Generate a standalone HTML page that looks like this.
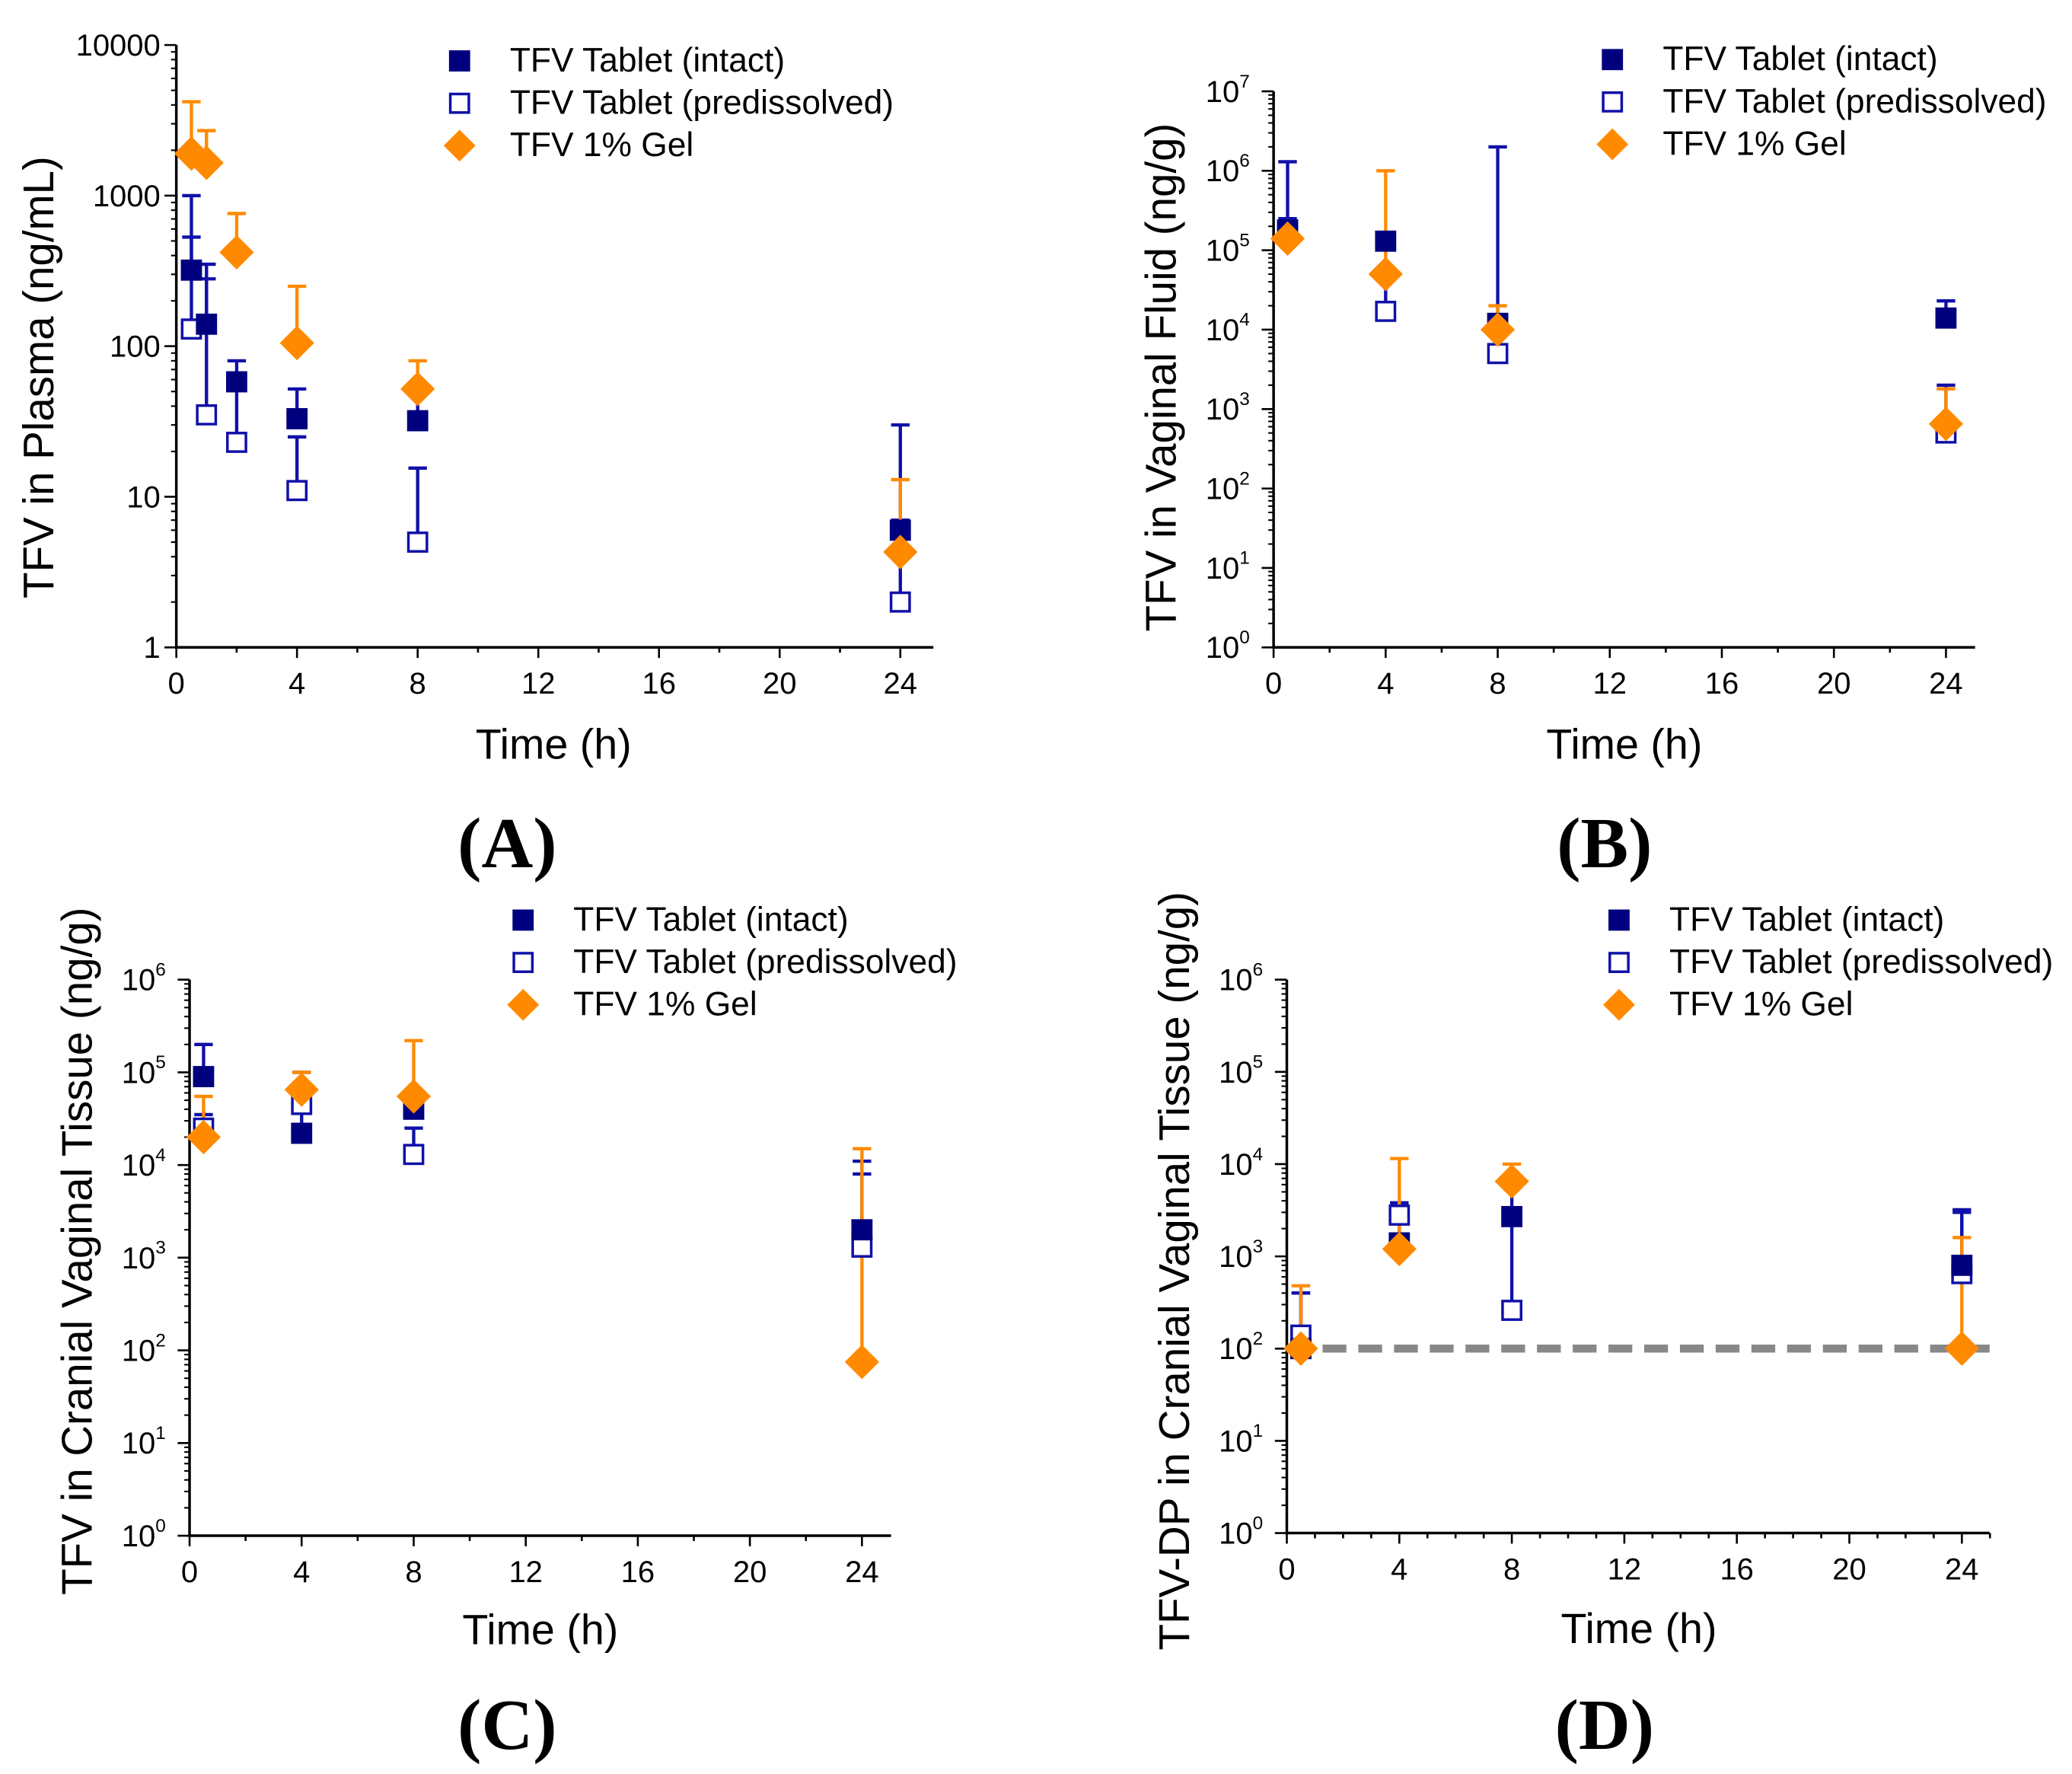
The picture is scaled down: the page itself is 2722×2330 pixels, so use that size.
<!DOCTYPE html>
<html><head><meta charset="utf-8">
<style>
html,body{margin:0;padding:0;background:#fff;}
svg{display:block;}
text{font-family:"Liberation Sans",sans-serif;}
text.serif{font-family:"Liberation Serif",serif;}
</style></head>
<body>
<svg id="chart" width="2722" height="2330" viewBox="0 0 1565 1340" xmlns="http://www.w3.org/2000/svg"></svg>
<script>
// ---- Data ----
const timesA = [0.5, 1, 2, 4, 8, 24];
const intactA = [320, 140, 58, 33, 32, 6];
const intactErrA = [530, 280, 80, 52, 52, 30];
const predA = [130, 35, 23, 11, 5, 2];
const predErrA = [1000, 350, 55, 25, 15.5, 7];
const gelA = [1900, 1650, 420, 105, 52, 4.3];
const gelErrA = [4200, 2700, 760, 250, 80, 13];

const timesB = [0.5, 4, 8, 24];
const intactB = [180000, 130000, 12000, 14000];
const intactErrB = [1300000, 140000, 2000000, 23000];
const predB = [160000, 17000, 5000, 500];
const predErrB = [250000, 60000, 12000, 2000];
const gelB = [140000, 50000, 10000, 650];
const gelErrB = [220000, 1000000, 20000, 1800];

const timesC = [0.5, 4, 8, 24];
const intactC = [90000, 22000, 40000, 2000];
const intactErrC = [200000, 60000, 55000, 11000];
const predC = [25000, 45000, 13000, 1300];
const predErrC = [35000, 100000, 25000, 8000];
const gelC = [20000, 65000, 55000, 75];
const gelErrC = [55000, 100000, 220000, 15000];

const timesD = [0.5, 4, 8, 24];
const intactD = [100, 1400, 2700, 800];
const intactErrD = [400, 3800, 7000, 3200];
const predD = [140, 2800, 260, 650];
const predErrD = [400, 3800, 2700, 3000];
const gelD = [100, 1200, 6500, 100];
const gelErrD = [480, 11500, 10000, 1600];
const lloqD = 100;

const xTicks = [0, 4, 8, 12, 16, 20, 24];
const legendLabels = ["TFV Tablet (intact)", "TFV Tablet (predissolved)", "TFV 1% Gel"];

const NAVY = "#00007f", BLUE = "#1010a8", ORANGE = "#ff8a00";
const NS = "http://www.w3.org/2000/svg";
const svg = document.getElementById("chart");

function el(tag, attrs, parent) {
  const e = document.createElementNS(NS, tag);
  for (const k in attrs) e.setAttribute(k, attrs[k]);
  (parent || svg).appendChild(e);
  return e;
}

function panel(p) {
  const g = el("g", {});
  
  
  const xS = t => p.x0 + (t / 24) * (p.x24 - p.x0);
  const yS = v => p.yBot - (Math.log10(v) - p.dMin) * (p.yBot - p.yTop) / (p.dMax - p.dMin);
  const ax = el("path", {d: `M${p.x0} ${p.yTop} V${p.yBot} H${p.xEnd}`, stroke: "#000", "stroke-width": 2, fill: "none"}, g);
  
  
  for (let t = 0; t <= 25; t += 1) {
    const major = t % 4 === 0, mid = t % 2 === 0;
    if (p.xMinorStep === 2 && !mid) continue;
    const len = major ? 8 : 4;
    el("line", {x1: xS(t), x2: xS(t), y1: p.yBot, y2: p.yBot + len, stroke: "#000", "stroke-width": 1.5}, g);
  }
  xTicks.forEach(t => {
    const tx = el("text", {x: xS(t), y: p.yBot + 35, "font-size": 23, "text-anchor": "middle"}, g);
    tx.textContent = t;
    
    
  });
  for (let d = p.dMin; d <= p.dMax; d++) {
    const y = yS(Math.pow(10, d));
    el("line", {x1: p.x0 - 9, x2: p.x0, y1: y, y2: y, stroke: "#000", "stroke-width": 1.5}, g);
    if (d < p.dMax) for (let m = 2; m <= 9; m++) {
      const ym = yS(m * Math.pow(10, d));
      el("line", {x1: p.x0 - 4, x2: p.x0, y1: ym, y2: ym, stroke: "#000", "stroke-width": 1.2}, g);
    }
    const tx = el("text", {x: p.x0 - 12, y: y + 8, "font-size": 23, "text-anchor": "end"}, g);
    
    
    if (p.sup) {
      tx.textContent = "10";
      const s = el("tspan", {dy: -11, "font-size": 14}, tx);
      s.textContent = d;
      tx.setAttribute("x", p.x0 - 18);
    } else tx.textContent = String(Math.pow(10, d));
  }
  const yt = el("text", {x: 0, y: 0, "font-size": 32.5, "text-anchor": "middle", transform: `translate(${p.ytx},${p.yty}) rotate(-90)`}, g);
  yt.textContent = p.yTitle;
  
  
  const xt = el("text", {x: p.xtx, y: p.xty, "font-size": 32, "text-anchor": "middle"}, g);
  xt.textContent = "Time (h)";
  
  
  const lb = el("text", {x: p.lx, y: p.ly, "font-size": 54, "font-weight": "bold", "text-anchor": "middle", "class": "serif"}, g);
  lb.textContent = "(" + p.id.toUpperCase() + ")";
  
  
  if (p.lloq) {
    const l = el("line", {x1: p.x0, x2: p.xEnd + 2, y1: yS(p.lloq), y2: yS(p.lloq), stroke: "#888", "stroke-width": 6, "stroke-dasharray": "18 9"}, g);
    
    
  }
  const series = [
    {v: p.pred, e: p.predErr, col: BLUE, kind: "open", name: "predissolved"},
    {v: p.intact, e: p.intactErr, col: BLUE, kind: "filled", name: "intact"},
    {v: p.gel, e: p.gelErr, col: ORANGE, kind: "diamond", name: "gel"}
  ];
  series.forEach(s => {
    p.times.forEach((t, i) => {
      const x = xS(t), y = yS(s.v[i]), ye = yS(s.e[i]);
      const eb = el("path", {d: `M${x} ${y} V${ye} M${x - 7} ${ye} H${x + 7}`, stroke: s.col, "stroke-width": 2.5, fill: "none"}, g);
      
      
    });
  });
  series.forEach(s => {
    p.times.forEach((t, i) => {
      const x = xS(t), y = yS(s.v[i]);
      let m;
      if (s.kind === "diamond") m = el("path", {d: `M${x} ${y - 13} L${x + 13} ${y} L${x} ${y + 13} L${x - 13} ${y} Z`, fill: ORANGE}, g);
      else if (s.kind === "filled") m = el("rect", {x: x - 8, y: y - 8, width: 16, height: 16, fill: NAVY}, g);
      else m = el("rect", {x: x - 7, y: y - 7, width: 14, height: 14, fill: "#fff", stroke: BLUE, "stroke-width": 2}, g);
      
      
    });
  });
  const lg = el("g", {}, g);
  
  
  legendLabels.forEach((lab, i) => {
    const y = p.legY + i * 32, x = p.legX;
    let m;
    if (i === 0) m = el("rect", {x: x - 8, y: y - 8, width: 16, height: 16, fill: NAVY}, lg);
    else if (i === 1) m = el("rect", {x: x - 7, y: y - 7, width: 14, height: 14, fill: "#fff", stroke: BLUE, "stroke-width": 2}, lg);
    else m = el("path", {d: `M${x} ${y - 12} L${x + 12} ${y} L${x} ${y + 12} L${x - 12} ${y} Z`, fill: ORANGE}, lg);
    
    
    const tx = el("text", {x: x + 38, y: y + 8, "font-size": 25.5}, lg);
    tx.textContent = lab;
    
    
  });
}

panel({id: "a", x0: 133, x24: 680, xEnd: 705, yTop: 34, yBot: 489, dMin: 0, dMax: 4, sup: false, xMinorStep: 2,
  yTitle: "TFV in Plasma (ng/mL)", ytx: 40, yty: 285, xtx: 418, xty: 573, lx: 383, ly: 655,
  legX: 347, legY: 46, times: timesA, intact: intactA, intactErr: intactErrA, pred: predA, predErr: predErrA, gel: gelA, gelErr: gelErrA});
panel({id: "b", x0: 962, x24: 1470, xEnd: 1492, yTop: 69, yBot: 489, dMin: 0, dMax: 7, sup: true, xMinorStep: 2,
  yTitle: "TFV in Vaginal Fluid (ng/g)", ytx: 888, yty: 285, xtx: 1227, xty: 573, lx: 1212, ly: 655,
  legX: 1218, legY: 45, times: timesB, intact: intactB, intactErr: intactErrB, pred: predB, predErr: predErrB, gel: gelB, gelErr: gelErrB});
panel({id: "c", x0: 143, x24: 651, xEnd: 673, yTop: 740, yBot: 1160, dMin: 0, dMax: 6, sup: true, xMinorStep: 2,
  yTitle: "TFV in Cranial Vaginal Tissue (ng/g)", ytx: 69, yty: 945, xtx: 408, xty: 1242, lx: 383, ly: 1321,
  legX: 395, legY: 695, times: timesC, intact: intactC, intactErr: intactErrC, pred: predC, predErr: predErrC, gel: gelC, gelErr: gelErrC});
panel({id: "d", x0: 972, x24: 1482, xEnd: 1503, yTop: 740, yBot: 1158, dMin: 0, dMax: 6, sup: true, xMinorStep: 1,
  yTitle: "TFV-DP in Cranial Vaginal Tissue (ng/g)", ytx: 898, yty: 960, xtx: 1238, xty: 1241, lx: 1212, ly: 1321,
  legX: 1223, legY: 695, lloq: lloqD, times: timesD, intact: intactD, intactErr: intactErrD, pred: predD, predErr: predErrD, gel: gelD, gelErr: gelErrD});
</script>
</body></html>
